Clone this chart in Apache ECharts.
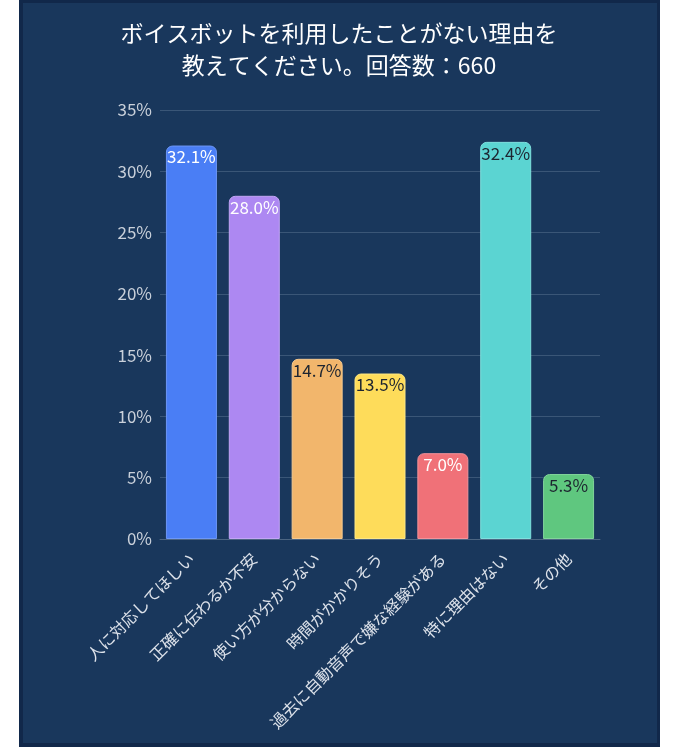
<!DOCTYPE html>
<html>
<head>
<meta charset="utf-8">
<title>ボイスボット</title>
<script src="https://cdn.jsdelivr.net/npm/echarts@6/dist/echarts.min.js"></script>
<style>
  html, body { margin: 0; padding: 0; background: #ffffff; }
  #frame {
    position: absolute; left: 19px; top: 0; width: 641px; height: 747px;
    box-sizing: border-box; background: #19375c;
    border: 3px solid #11284a; border-left-width: 4px; border-bottom-width: 4px;
  }
  #main { position: absolute; left: 0; top: 0; width: 678px; height: 748px; }
</style>
</head>
<body>
<div id="frame"></div>
<div id="main"></div>
<script>
  var categories = ['人に対応してほしい', '正確に伝わるか不安', '使い方が分からない', '時間がかかりそう', '過去に自動音声で嫌な経験がある', '特に理由はない', 'その他'];
  var values = [32.1, 28.0, 14.7, 13.5, 7.0, 32.4, 5.3];
  var barColors = ['#4a7ef5', '#ad88f2', '#f2b66c', '#fedc5a', '#f07178', '#5bd4d2', '#5fc77f'];
  var edgeColors = ['#6d97f7', '#c2a5f6', '#f6c98f', '#fee783', '#f4939a', '#7fe0de', '#82d49b'];
  var labelColors = ['#ffffff', '#ffffff', '#1d2430', '#1d2430', '#ffffff', '#1d2430', '#1d2430'];
  var yTicks = [0, 5, 10, 15, 20, 25, 30, 35];

  var data = values.map(function (v, i) {
    return {
      value: v,
      itemStyle: { color: barColors[i], borderColor: edgeColors[i], borderWidth: 1 },
      label: { color: labelColors[i] }
    };
  });

  var chart = echarts.init(document.getElementById('main'));
  chart.setOption({
    backgroundColor: 'transparent',
    textStyle: { fontFamily: 'Noto Sans CJK JP' },
    title: {
      text: 'ボイスボットを利用したことがない理由を\n教えてください。回答数：660',
      left: 'center',
      top: 12,
      textStyle: { color: '#ffffff', fontSize: 23, fontWeight: 'normal', lineHeight: 32, fontFamily: 'Noto Sans CJK JP' }
    },
    grid: { left: 160, right: 78, top: 110, bottom: 209 },
    xAxis: {
      type: 'category',
      data: categories,
      axisTick: { show: false },
      axisLine: { lineStyle: { color: '#4c6582' } },
      axisLabel: { rotate: 45, margin: 17, color: '#dde2ea', fontSize: 16, interval: 0 }
    },
    yAxis: {
      type: 'value',
      min: yTicks[0],
      max: yTicks[yTicks.length - 1],
      interval: 5,
      axisLabel: { formatter: '{value}%', color: '#c9d0da', fontSize: 17, margin: 8 },
      splitLine: { lineStyle: { color: '#3a5677' } },
      axisLine: { show: false },
      axisTick: { show: false }
    },
    series: [{
      type: 'bar',
      data: data,
      barWidth: 51,
      itemStyle: { borderRadius: [6, 6, 0, 0] },
      label: {
        show: true,
        position: 'insideTop',
        distance: 3,
        fontSize: 17,
        formatter: function (p) { return p.value.toFixed(1) + '%'; }
      }
    }]
  });
</script>
</body>
</html>
